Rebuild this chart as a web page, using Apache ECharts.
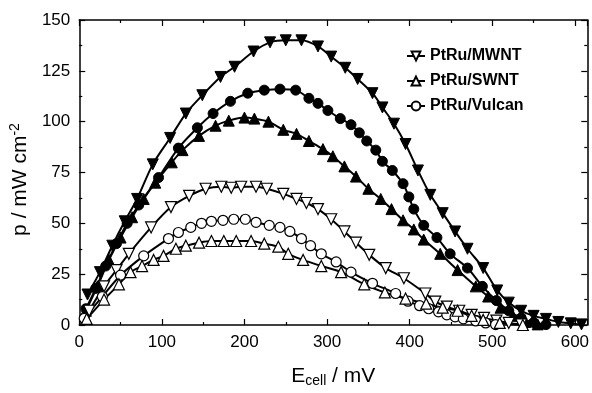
<!DOCTYPE html>
<html>
<head>
<meta charset="utf-8">
<script src="https://cdn.jsdelivr.net/npm/echarts@6/dist/echarts.min.js"></script>
<style>
  html, body { margin: 0; padding: 0; background: #fff; }
  #chart { width: 592px; height: 393px; }
</style>
</head>
<body>
<div id="chart"></div>
<script>
// E_cell (mV) and power density p (mW cm^-2)
const mwntFilledE = [10, 25, 40, 55, 70, 89, 110, 129, 149, 171, 188, 211, 231, 250, 269, 289, 305, 322, 337, 355, 367, 381, 395, 410, 425, 440, 455, 470, 489, 506, 520, 535, 550, 565, 580, 595, 608];
const mwntFilledP = [15, 26, 39, 51, 62, 79, 92, 104, 113, 122, 127, 134.5, 139, 140, 140, 137, 132, 126.5, 121, 114, 107, 99, 89, 76, 64, 55, 46, 37.5, 28, 17, 11, 7, 4.5, 3, 1.5, 0.8, 0.3];

const vulcanFilledE = [8, 20, 32, 45, 58, 72, 96, 120, 143, 162, 183, 204, 224, 243, 262, 278, 289, 301, 316, 329, 339, 348, 359, 367, 379, 392, 399, 405, 417, 433, 449, 470, 488, 505, 520, 535, 550, 565];
const vulcanFilledP = [8, 18, 29, 40, 50, 59, 72.5, 87, 97, 104, 110, 114, 115.5, 116, 115.5, 111.5, 109, 105.5, 101.5, 98.5, 94.5, 90.5, 86, 80.5, 76, 69.5, 63, 57, 49, 43, 35, 28, 19, 12, 7, 3.5, 1.2, 0.2];

const swntFilledE = [8, 22, 36, 50, 64, 78, 92, 112, 125, 145, 165, 181, 200, 212, 229, 247, 263, 278, 295, 307, 321, 335, 350, 365, 378, 392, 405, 417, 437, 458, 480, 495, 510, 525, 540, 555];
const swntFilledP = [7, 19, 32, 43, 53, 62, 70, 80, 86, 93, 98, 100.5, 102, 101.5, 100, 96, 94, 90.5, 86.5, 83, 78, 73, 67, 62, 57, 51.5, 47, 42, 35, 27, 19, 14, 8.5, 4.5, 1.5, 0.3];

const mwntOpenE = [12, 30, 45, 60, 87, 111, 133, 153, 172, 184, 196, 214, 227, 247, 263, 275, 289, 305, 321, 335, 351, 371, 393, 419, 431, 445, 460, 475, 490, 505, 520, 535];
const mwntOpenP = [7, 19, 27, 35, 48, 58, 63.5, 67, 68, 67.5, 68, 68, 67, 64.5, 62, 60, 57, 52, 46, 40.5, 34.5, 28, 23, 15.5, 11.5, 9, 7, 5, 3.5, 2.2, 1, 0.3];

const vulcanOpenE = [6, 28, 50, 78, 108, 120, 135, 148, 160, 174, 187, 201, 214, 230, 243, 255, 269, 280, 293, 311, 329, 355, 383, 398, 412, 423, 435, 445, 455, 465, 480, 492, 504];
const vulcanOpenP = [3.3, 14, 24.5, 34, 42.5, 45.5, 48, 50, 51, 51.5, 52, 52, 50.5, 49, 48, 46, 42.5, 39, 35, 31, 26, 20.5, 15.5, 11.7, 9.5, 8, 6.5, 5, 4, 3, 2, 1, 0.2];

const swntOpenE = [9, 30, 48, 62, 76, 90, 102, 117, 129, 145, 160, 175, 190, 208, 224, 241, 253, 271, 293, 317, 345, 370, 395, 420, 440, 458, 475, 489, 509, 537];
const swntOpenP = [3, 12.5, 20, 26, 29, 32, 34, 37.5, 39, 40.5, 41.3, 41.3, 41.3, 41.3, 40, 38.5, 35, 32, 29, 26, 20, 16, 13, 10.5, 8.5, 7, 4.5, 2.5, 1, 0];

const legendNames = ['PtRu/MWNT', 'PtRu/SWNT', 'PtRu/Vulcan'];

const zip = (xs, ys) => xs.map((x, i) => [x, ys[i]]);

const font = 'Liberation Sans, Arial, sans-serif';

function makeSeries(name, xs, ys, symbol, rotate, filled) {
  return {
    name: name,
    type: 'line',
    data: zip(xs, ys),
    smooth: 0.3,
    symbol: symbol,
    symbolRotate: rotate,
    symbolSize: symbol === 'circle' ? 10 : 11,
    lineStyle: { color: '#000', width: 2 },
    itemStyle: filled
      ? { color: '#000', borderColor: '#000', borderWidth: 1 }
      : { color: '#fff', borderColor: '#000', borderWidth: 1.2 },
    emphasis: { disabled: true },
    animation: false
  };
}

const chart = echarts.init(document.getElementById('chart'));

const axisCommon = {
  type: 'value',
  axisLine: { show: true, onZero: false, lineStyle: { color: '#000', width: 1.5 } },
  axisTick: { show: true, inside: true, length: 6, lineStyle: { color: '#000', width: 1.2 } },
  minorTick: { show: true, splitNumber: 2, length: 3, lineStyle: { color: '#000', width: 1.2 } },
  splitLine: { show: false },
  minorSplitLine: { show: false }
};

const option = {
  backgroundColor: '#fff',
  animation: false,
  grid: { left: 77, right: 4, top: 20, bottom: 53 },
  legend: {
    data: legendNames,
    orient: 'vertical',
    left: 401,
    top: 43,
    itemWidth: 18,
    itemHeight: 11,
    itemGap: 9,
    textStyle: { fontFamily: font, fontSize: 16, fontWeight: 'bold', color: '#000' }
  },
  xAxis: [
    Object.assign({}, axisCommon, {
      position: 'bottom',
      min: 0, max: 615, interval: 100,
      axisLabel: {
        fontFamily: font, fontSize: 17, color: '#000', margin: 9,
        formatter: v => (v % 100 === 0 ? String(v) : '')
      },
      name: '{a|E}{b|cell}{a| / mV}',
      nameLocation: 'middle',
      nameGap: 39,
      nameTextStyle: {
        rich: {
          a: { fontFamily: font, fontSize: 21, color: '#000', lineHeight: 24, verticalAlign: 'middle' },
          b: { fontFamily: font, fontSize: 14, color: '#000', lineHeight: 24, verticalAlign: 'bottom', padding: [9, 0, 0, 0] }
        }
      }
    }),
    Object.assign({}, axisCommon, {
      position: 'top',
      min: 0, max: 615, interval: 100,
      axisLabel: { show: false }
    })
  ],
  yAxis: [
    Object.assign({}, axisCommon, {
      position: 'left',
      min: 0, max: 150, interval: 25,
      axisLabel: { fontFamily: font, fontSize: 17, color: '#000', margin: 9 },
      name: '{a|p / mW cm}{b|-2}',
      nameLocation: 'middle',
      nameRotate: 90,
      nameGap: 36,
      nameTextStyle: {
        rich: {
          a: { fontFamily: font, fontSize: 21, color: '#000', lineHeight: 24 },
          b: { fontFamily: font, fontSize: 14, color: '#000', lineHeight: 24, verticalAlign: 'top', padding: [0, 14, 9, 0] }
        }
      }
    }),
    Object.assign({}, axisCommon, {
      position: 'right',
      min: 0, max: 150, interval: 25,
      axisLabel: { show: false }
    })
  ],
  series: [
    makeSeries('PtRu/MWNT filled', mwntFilledE, mwntFilledP, 'triangle', 180, true),
    makeSeries('PtRu/Vulcan filled', vulcanFilledE, vulcanFilledP, 'circle', 0, true),
    makeSeries('PtRu/SWNT filled', swntFilledE, swntFilledP, 'triangle', 0, true),
    makeSeries('PtRu/MWNT', mwntOpenE, mwntOpenP, 'triangle', 180, false),
    makeSeries('PtRu/Vulcan', vulcanOpenE, vulcanOpenP, 'circle', 0, false),
    makeSeries('PtRu/SWNT', swntOpenE, swntOpenP, 'triangle', 0, false)
  ]
};

chart.setOption(option);
</script>
</body>
</html>
